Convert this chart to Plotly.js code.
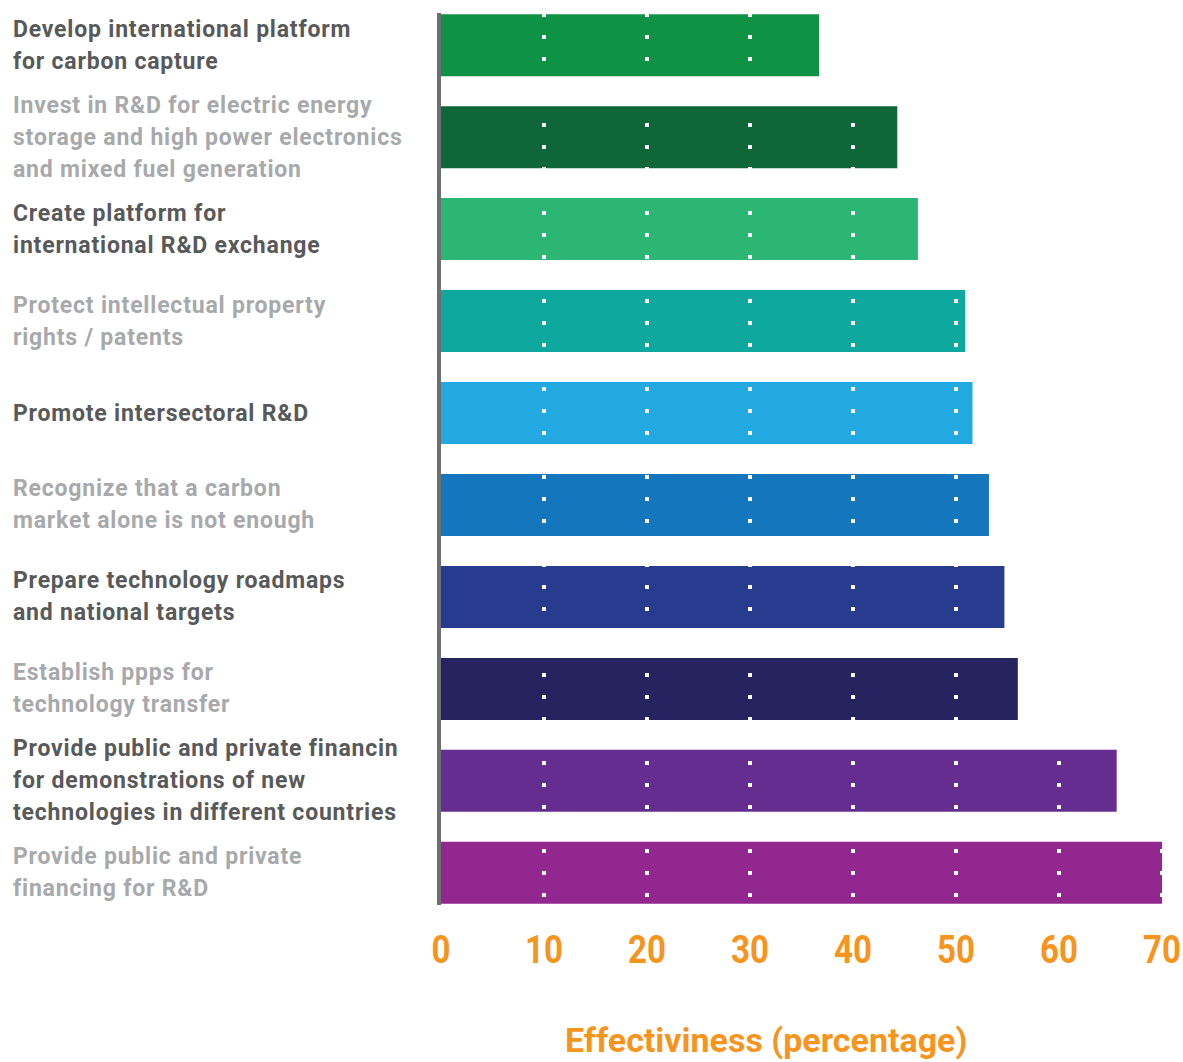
<!DOCTYPE html>
<html>
<head>
<meta charset="utf-8">
<script src="https://cdn.plot.ly/plotly-3.0.1.min.js"></script>
<style>html,body{margin:0;padding:0;background:#fff;}#chart{width:1183px;height:1062px;}</style>
</head>
<body>
<div id="chart"></div>
<script>
const categories = [
  "Develop international platform<br>for carbon capture",
  "Invest in R&D for electric energy<br>storage and high power electronics<br>and mixed fuel generation",
  "Create platform for<br>international R&D exchange",
  "Protect intellectual property<br>rights / patents",
  "Promote intersectoral R&D",
  "Recognize that a carbon<br>market alone is not enough",
  "Prepare technology roadmaps<br>and national targets",
  "Establish ppps for<br>technology transfer",
  "Provide public and private financin<br>for demonstrations of new<br>technologies in different countries",
  "Provide public and private<br>financing for R&D"
];
const values = [36.7, 44.3, 46.3, 50.9, 51.6, 53.2, 54.7, 56.0, 65.6, 70.0];
const barColors = ["#0E9346","#0F6638","#2BB673","#0FA89E","#22A9E1","#1476BD","#283C8F","#262360","#662D91","#92278F"];
const labelColors = ["#58595B","#A7A9AC"];
const tickVals = [0,10,20,30,40,50,60,70];
const xTitle = "Effectiviness (percentage)";

const FONT = "Roboto, 'Liberation Sans', sans-serif";
const ORANGE = '#F7941D';
const LINE_STEP = 32/92;   // line spacing in category units

const ids = categories.map((c,i)=>i);

const trace = {
  type: 'bar',
  orientation: 'h',
  x: values,
  y: ids,
  marker: {color: barColors},
  hoverinfo: 'x',
  showlegend: false
};

const annotations = [];
categories.forEach((c,i)=>{
  const lines = c.split('<br>');
  const n = lines.length;
  lines.forEach((ln,j)=>{
    annotations.push({
      text: ln,
      xref: 'paper', yref: 'y',
      x: -(441-11)/721, y: i + (j-(n-1)/2)*LINE_STEP,
      xanchor: 'left', yanchor: 'middle', align: 'left',
      showarrow: false,
      font: {family: FONT, size: 23, color: labelColors[i%2], weight: 700}
    });
  });
});
annotations.push({
  text: xTitle,
  xref: 'paper', yref: 'paper',
  x: (765.5-441)/721, y: -(1040-905)/892,
  xanchor: 'center', yanchor: 'middle',
  showarrow: false,
  font: {family: FONT, size: 34, color: ORANGE, weight: 700}
});

const shapes = tickVals.filter(v=>v>0).map(v=>({
  type: 'line', layer: 'above',
  xref: 'x', yref: 'paper',
  x0: v, x1: v, y0: 1, y1: 0,
  line: {color: '#ffffff', width: 4, dash: '4px,18px'}
}));

const layout = {
  width: 1183, height: 1062,
  margin: {l: 441, r: 21, t: 13, b: 157},
  paper_bgcolor: '#fff', plot_bgcolor: '#fff',
  bargap: 0.326,
  xaxis: {
    range: [0, 70],
    tickvals: tickVals,
    ticktext: tickVals.map(String),
    showgrid: false, zeroline: false, showline: false,
    ticks: '', ticklabelstandoff: 18,
    ticklabeloverflow: 'allow',
    tickfont: {family: FONT, size: 39, color: ORANGE, weight: 700}
  },
  yaxis: {
    range: [9.35, -0.35],
    showticklabels: false, ticks: '',
    showgrid: false, zeroline: false,
    showline: true, linecolor: '#6D6E71', linewidth: 4
  },
  shapes: shapes,
  annotations: annotations
};

// condense text horizontally (reference uses a condensed typeface)
function condense(nodes, s){
  nodes.forEach(t=>{
    const bb = t.getBBox();
    const anchor = t.getAttribute('text-anchor') || 'start';
    let ax = bb.x;
    if (anchor === 'middle') ax = bb.x + bb.width/2;
    else if (anchor === 'end') ax = bb.x + bb.width;
    const prev = t.getAttribute('transform') || '';
    t.setAttribute('transform', prev + ` translate(${ax},0) scale(${s},1) translate(${-ax},0)`);
  });
}

Plotly.newPlot('chart', [trace], layout, {displayModeBar: false, staticPlot: true}).then(gd=>{
  const annTexts = Array.from(gd.querySelectorAll('.annotation-text'));
  annTexts.slice(0, annTexts.length-1).forEach(t=>{ t.style.letterSpacing = '0.8px'; });
  condense(Array.from(gd.querySelectorAll('.xtick text')), 0.85);
});
</script>
</body>
</html>
